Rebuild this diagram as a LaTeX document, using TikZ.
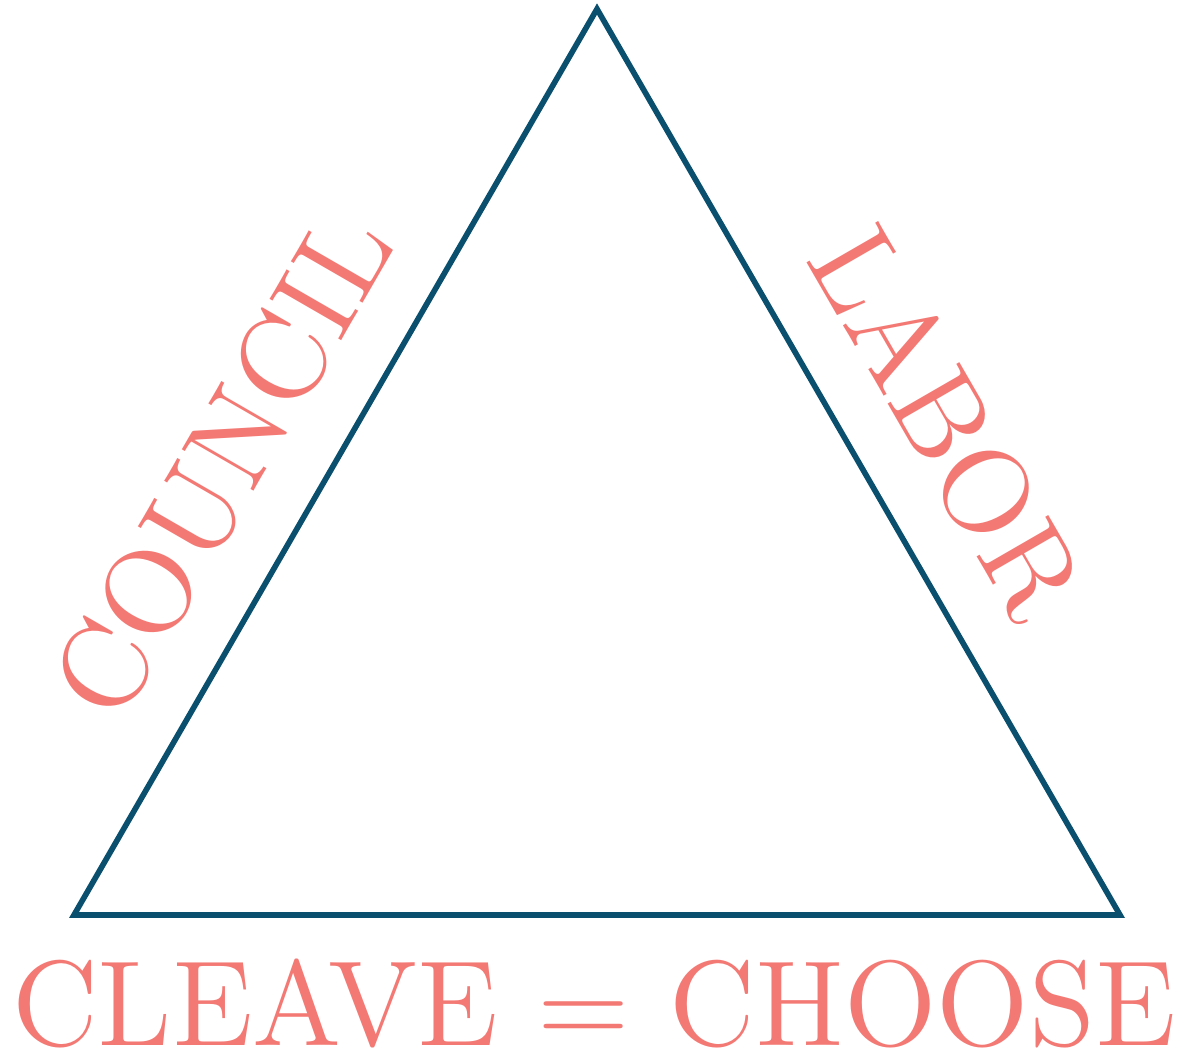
\documentclass[tikz,border=0pt]{standalone}
\usepackage{fontspec}
\usepackage{tikz}
\usetikzlibrary{positioning,calc}
\newfontfamily\lmtwelve{lmroman12-regular.otf}
\definecolor{edgecol}{RGB}{10,80,110}
\definecolor{salmon}{RGB}{243,121,116}

\begin{document}
\begin{tikzpicture}[x=0.02cm,y=0.02cm,
   side/.style={draw=edgecol,line width=3.2pt,line join=miter},
   lbl/.style={text=salmon,inner sep=0pt,anchor=base,font=\lmtwelve\fontsize{69}{69}\selectfont}]
  \useasboundingbox (0,0) rectangle (1183,1051);
  % corners of the triangle
  \coordinate (bl) at (74,136);
  \coordinate (br) at (1120,136);
  \coordinate (top) at (597,1042);
  \draw[side] (bl) -- (top) -- (br) -- cycle;
  % labels along the sides and under the base
  \node[lbl,rotate=60] (council) at (258,566) {COUNCIL};
  \node[lbl,rotate=-60] (labor) at (911,608) {LABOR};
  \node[lbl] (motto) at (594,5) {CLEAVE = CHOOSE};
\end{tikzpicture}
\end{document}
